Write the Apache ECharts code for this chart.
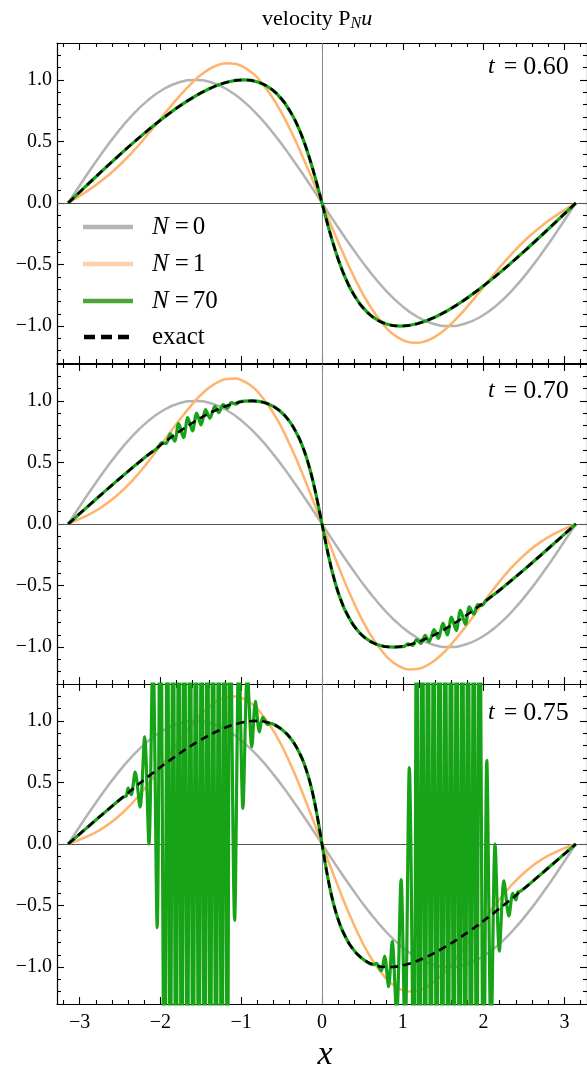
<!DOCTYPE html>
<html><head><meta charset="utf-8">
<script src="https://cdn.jsdelivr.net/npm/echarts@6/dist/echarts.min.js"></script>
<style>html,body{margin:0;padding:0;background:#fff}#c{width:587px;height:1067px}</style>
</head><body><div id="c"></div>
<script>
// ---------------- data ----------------
const panelTimes = ['0.60', '0.70', '0.75'];
const xGrid = [-3.1416,-2.9452,-2.7489,-2.5525,-2.3562,-2.1598,-1.9635,-1.7671,-1.5708,-1.3744,-1.1781,-0.9817,-0.7854,-0.589,-0.3927,-0.1963,0,0.1963,0.3927,0.589,0.7854,0.9817,1.1781,1.3744,1.5708,1.7671,1.9635,2.1598,2.3562,2.5525,2.7489,2.9452,3.1416];
const n0Vals = [0,0.1951,0.3827,0.5556,0.7071,0.8315,0.9239,0.9808,1,0.9808,0.9239,0.8315,0.7071,0.5556,0.3827,0.1951,0,-0.1951,-0.3827,-0.5556,-0.7071,-0.8315,-0.9239,-0.9808,-1,-0.9808,-0.9239,-0.8315,-0.7071,-0.5556,-0.3827,-0.1951,0];
const xGridN1 = [-3.1416,-2.9452,-2.7489,-2.5525,-2.3562,-2.1598,-1.9635,-1.7671,-1.5708,-1.4726,-1.3744,-1.2763,-1.1781,-1.0799,-0.9817,-0.8836,-0.7854,-0.589,-0.3927,-0.1963,0,0.1963,0.3927,0.589,0.7854,0.8836,0.9817,1.0799,1.1781,1.2763,1.3744,1.4726,1.5708,1.7671,1.9635,2.1598,2.3562,2.5525,2.7489,2.9452,3.1416];
const n1Vals060 = [0,0.0803,0.1706,0.2784,0.4071,0.5543,0.7118,0.866,1,1.0537,1.0956,1.1236,1.136,1.1314,1.1087,1.0672,1.0071,0.8328,0.5948,0.3099,0,-0.3099,-0.5948,-0.8328,-1.0071,-1.0672,-1.1087,-1.1314,-1.136,-1.1236,-1.0956,-1.0537,-1,-0.866,-0.7118,-0.5543,-0.4071,-0.2784,-0.1706,-0.0803,0];
const n1Vals070 = [0,0.0573,0.1281,0.223,0.3471,0.4989,0.6693,0.843,1,1.0654,1.1186,1.1569,1.1785,1.1812,1.1641,1.1261,1.0671,0.8882,0.6373,0.3329,0,-0.3329,-0.6373,-0.8882,-1.0671,-1.1261,-1.1641,-1.1812,-1.1785,-1.1569,-1.1186,-1.0654,-1,-0.843,-0.6693,-0.4989,-0.3471,-0.223,-0.1281,-0.0573,0];
const n1Vals075 = [0,0.0497,0.114,0.2045,0.3271,0.4804,0.6552,0.8354,1,1.0693,1.1262,1.168,1.1926,1.1979,1.1826,1.1457,1.0871,0.9067,0.6514,0.3405,0,-0.3405,-0.6514,-0.9067,-1.0871,-1.1457,-1.1826,-1.1979,-1.1926,-1.168,-1.1262,-1.0693,-1,-0.8354,-0.6552,-0.4804,-0.3271,-0.2045,-0.114,-0.0497,0];

const exact060 = [[-3.1416,0],[-2.8282,0.1951],[-2.5193,0.3827],[-2.2192,0.5556],[-1.9319,0.7071],[-1.6609,0.8315],[-1.4092,0.9239],[-1.1787,0.9808],[-0.9708,1],[-0.786,0.9808],[-0.6238,0.9239],[-0.4829,0.8315],[-0.3611,0.7071],[-0.3066,0.6344],[-0.2557,0.5556],[-0.208,0.4714],[-0.1631,0.3827],[-0.1204,0.2903],[-0.0793,0.1951],[-0.0394,0.098],[0,0],[0.0394,-0.098],[0.0793,-0.1951],[0.1204,-0.2903],[0.1631,-0.3827],[0.208,-0.4714],[0.2557,-0.5556],[0.3066,-0.6344],[0.3611,-0.7071],[0.4829,-0.8315],[0.6238,-0.9239],[0.786,-0.9808],[0.9708,-1],[1.1787,-0.9808],[1.4092,-0.9239],[1.6609,-0.8315],[1.9319,-0.7071],[2.2192,-0.5556],[2.5193,-0.3827],[2.8282,-0.1951],[3.1416,0]];
const exact070 = [[-3.1416,0],[-2.8087,0.1951],[-2.481,0.3827],[-2.1636,0.5556],[-1.8612,0.7071],[-1.5778,0.8315],[-1.3168,0.9239],[-1.0806,0.9808],[-0.8708,1],[-0.6879,0.9808],[-0.5314,0.9239],[-0.3997,0.8315],[-0.2904,0.7071],[-0.2432,0.6344],[-0.2001,0.5556],[-0.1609,0.4714],[-0.1248,0.3827],[-0.0913,0.2903],[-0.0598,0.1951],[-0.0296,0.098],[0,0],[0.0296,-0.098],[0.0598,-0.1951],[0.0913,-0.2903],[0.1248,-0.3827],[0.1609,-0.4714],[0.2001,-0.5556],[0.2432,-0.6344],[0.2904,-0.7071],[0.3997,-0.8315],[0.5314,-0.9239],[0.6879,-0.9808],[0.8708,-1],[1.0806,-0.9808],[1.3168,-0.9239],[1.5778,-0.8315],[1.8612,-0.7071],[2.1636,-0.5556],[2.481,-0.3827],[2.8087,-0.1951],[3.1416,0]];
const exact075 = [[-3.1416,0],[-2.7989,0.1951],[-2.4619,0.3827],[-2.1358,0.5556],[-1.8259,0.7071],[-1.5362,0.8315],[-1.2706,0.9239],[-1.0316,0.9808],[-0.8208,1],[-0.6389,0.9808],[-0.4852,0.9239],[-0.3581,0.8315],[-0.2551,0.7071],[-0.2114,0.6344],[-0.1724,0.5556],[-0.1373,0.4714],[-0.1057,0.3827],[-0.0768,0.2903],[-0.05,0.1951],[-0.0247,0.098],[0,0],[0.0247,-0.098],[0.05,-0.1951],[0.0768,-0.2903],[0.1057,-0.3827],[0.1373,-0.4714],[0.1724,-0.5556],[0.2114,-0.6344],[0.2551,-0.7071],[0.3581,-0.8315],[0.4852,-0.9239],[0.6389,-0.9808],[0.8208,-1],[1.0316,-0.9808],[1.2706,-0.9239],[1.5362,-0.8315],[1.8259,-0.7071],[2.1358,-0.5556],[2.4619,-0.3827],[2.7989,-0.1951],[3.1416,0]];

// N = 70 : coincides with the exact curve at t = 0.60
const n70t060 = [[-3.1416,0],[-2.8282,0.1951],[-2.5193,0.3827],[-2.2192,0.5556],[-1.9319,0.7071],[-1.6609,0.8315],[-1.4092,0.9239],[-1.1787,0.9808],[-0.9708,1],[-0.786,0.9808],[-0.6238,0.9239],[-0.4829,0.8315],[-0.3611,0.7071],[-0.3066,0.6344],[-0.2557,0.5556],[-0.208,0.4714],[-0.1631,0.3827],[-0.1204,0.2903],[-0.0793,0.1951],[-0.0394,0.098],[0,0],[0.0394,-0.098],[0.0793,-0.1951],[0.1204,-0.2903],[0.1631,-0.3827],[0.208,-0.4714],[0.2557,-0.5556],[0.3066,-0.6344],[0.3611,-0.7071],[0.4829,-0.8315],[0.6238,-0.9239],[0.786,-0.9808],[0.9708,-1],[1.1787,-0.9808],[1.4092,-0.9239],[1.6609,-0.8315],[1.9319,-0.7071],[2.2192,-0.5556],[2.5193,-0.3827],[2.8282,-0.1951],[3.1416,0]];
const n70t070 = [[-3.1416,0],[-2.8087,0.1951],[-2.481,0.3827],[-2.1636,0.5556],[-2.03,0.622],[-1.983,0.661],[-1.928,0.654],[-1.879,0.733],[-1.824,0.673],[-1.775,0.815],[-1.714,0.702],[-1.661,0.865],[-1.603,0.756],[-1.551,0.901],[-1.497,0.805],[-1.441,0.93],[-1.387,0.859],[-1.326,0.956],[-1.277,0.904],[-1.224,0.971],[-1.171,0.939],[-1.122,0.986],[-1.061,0.973],[-1.02,0.994],[-0.8708,1],[-0.6879,0.9808],[-0.5314,0.9239],[-0.3997,0.8315],[-0.2904,0.7071],[-0.2432,0.6344],[-0.2001,0.5556],[-0.1609,0.4714],[-0.1248,0.3827],[-0.0913,0.2903],[-0.0598,0.1951],[-0.0296,0.098],[0,0],[0.0296,-0.098],[0.0598,-0.1951],[0.0913,-0.2903],[0.1248,-0.3827],[0.1609,-0.4714],[0.2001,-0.5556],[0.2432,-0.6344],[0.2904,-0.7071],[0.3997,-0.8315],[0.5314,-0.9239],[0.6879,-0.9808],[0.8708,-1],[1.02,-0.994],[1.061,-0.973],[1.122,-0.986],[1.171,-0.939],[1.224,-0.971],[1.277,-0.904],[1.326,-0.956],[1.387,-0.859],[1.441,-0.93],[1.497,-0.805],[1.551,-0.901],[1.603,-0.756],[1.661,-0.865],[1.714,-0.702],[1.775,-0.815],[1.824,-0.673],[1.879,-0.733],[1.928,-0.654],[1.983,-0.661],[2.03,-0.622],[2.1636,-0.5556],[2.481,-0.3827],[2.8087,-0.1951],[3.1416,0]];
const n70t075 = [[-3.1416,0],[-2.7989,0.1951],[-2.4619,0.3827],[-2.423,0.39],[-2.399,0.455],[-2.362,0.4],[-2.313,0.585],[-2.252,0.3],[-2.195,0.87],[-2.142,0],[-2.093,1.6],[-2.04,-0.68],[-2.001,2.4],[-1.95,-2.4],[-1.914,2.4],[-1.879,-2.4],[-1.843,2.4],[-1.808,-2.4],[-1.772,2.4],[-1.738,-2.4],[-1.703,2.4],[-1.667,-2.4],[-1.632,2.4],[-1.596,-2.4],[-1.561,2.4],[-1.525,-2.4],[-1.49,2.4],[-1.454,-2.4],[-1.419,2.4],[-1.383,-2.4],[-1.348,2.4],[-1.312,-2.4],[-1.277,2.4],[-1.242,-2.4],[-1.207,2.4],[-1.171,-2.4],[-1.138,2.2],[-1.081,-0.62],[-1.028,1.6],[-0.979,0.29],[-0.924,1.4],[-0.869,0.79],[-0.824,1.16],[-0.775,0.91],[-0.734,1.03],[-0.673,0.97],[-0.6389,0.9808],[-0.4852,0.9239],[-0.3581,0.8315],[-0.2551,0.7071],[-0.2114,0.6344],[-0.1724,0.5556],[-0.1373,0.4714],[-0.1057,0.3827],[-0.0768,0.2903],[-0.05,0.1951],[-0.0247,0.098],[0,0],[0.0247,-0.098],[0.05,-0.1951],[0.0768,-0.2903],[0.1057,-0.3827],[0.1373,-0.4714],[0.1724,-0.5556],[0.2114,-0.6344],[0.2551,-0.7071],[0.3581,-0.8315],[0.4852,-0.9239],[0.6389,-0.9808],[0.673,-0.97],[0.734,-1.03],[0.775,-0.91],[0.824,-1.16],[0.869,-0.79],[0.924,-1.4],[0.979,-0.29],[1.028,-1.6],[1.081,0.62],[1.138,-2.2],[1.171,2.4],[1.207,-2.4],[1.242,2.4],[1.277,-2.4],[1.312,2.4],[1.348,-2.4],[1.383,2.4],[1.419,-2.4],[1.454,2.4],[1.49,-2.4],[1.525,2.4],[1.561,-2.4],[1.596,2.4],[1.632,-2.4],[1.667,2.4],[1.703,-2.4],[1.738,2.4],[1.772,-2.4],[1.808,2.4],[1.843,-2.4],[1.879,2.4],[1.914,-2.4],[1.95,2.4],[2.001,-2.4],[2.04,0.68],[2.093,-1.6],[2.142,0],[2.195,-0.87],[2.252,-0.3],[2.313,-0.585],[2.362,-0.4],[2.399,-0.455],[2.423,-0.39],[2.4619,-0.3827],[2.7989,-0.1951],[3.1416,0]];

const xMajorTicks = [-3,-2,-1,0,1,2,3];
const yMajorTicks = [-1,-0.5,0,0.5,1];
const legendLabels = ['0','1','70'];

// ---------------- chart ----------------
const FONT = '"Liberation Serif","Times New Roman",serif';
const C_GRAY = '#b3b3b3', C_ORANGE = '#ffb36b', C_GREEN = '#17a317', C_BLACK = '#000';
const tops = [43, 364, 684];
const PLOT_LEFT = 57, PLOT_W = 536, PLOT_H = 320;
const xMinorTicks = []; for (let i = -16; i <= 16; i++) if (i % 5 !== 0) xMinorTicks.push(i / 5);
const yMinorTicks = []; for (let i = -12; i <= 12; i++) if (i % 5 !== 0) yMinorTicks.push(i / 10);
const minus = s => s.replace('-', '\u2212');

const grid = tops.map(t => ({left: PLOT_LEFT, top: t, width: PLOT_W, height: PLOT_H}));
const xAxis = [], yAxis = [];
tops.forEach((t, g) => {
  [['bottom', true], ['bottom', false], ['top', true], ['top', false]].forEach(([pos, major]) => {
    xAxis.push({type: 'value', gridIndex: g, position: pos, min: -3.28, max: 3.28,
      axisLine: {show: major, onZero: false, lineStyle: {color: '#000', width: 1.2}},
      axisTick: {show: true, inside: true, length: major ? 7 : 4, customValues: major ? xMajorTicks : xMinorTicks, lineStyle: {color: '#000', width: 1.1}},
      axisLabel: {show: major && pos === 'bottom' && g === 2, customValues: xMajorTicks, formatter: v => minus(String(v)),
        fontFamily: FONT, fontSize: 20, color: '#000', margin: 9},
      splitLine: {show: false}});
  });
  [['left', true], ['left', false], ['right', true], ['right', false]].forEach(([pos, major]) => {
    yAxis.push({type: 'value', gridIndex: g, position: pos, min: -1.3, max: 1.3,
      axisLine: {show: major, onZero: false, lineStyle: {color: '#000', width: 1.2}},
      axisTick: {show: true, inside: true, length: major ? 7 : 4, customValues: major ? yMajorTicks : yMinorTicks, lineStyle: {color: '#000', width: 1.1}},
      axisLabel: {show: major && pos === 'left', customValues: yMajorTicks, formatter: v => minus(v.toFixed(1)),
        fontFamily: FONT, fontSize: 20, color: '#000', margin: 5},
      splitLine: {show: false}});
  });
});

const n1Sets = [n1Vals060, n1Vals070, n1Vals075];
const n70Sets = [n70t060, n70t070, n70t075];
const exactSets = [exact060, exact070, exact075];
const pairs = (xs, vals) => xs.map((x, i) => [x, vals[i]]);
const base = g => ({type: 'line', xAxisIndex: 4 * g, yAxisIndex: 4 * g, symbol: 'none', showSymbol: false,
  clip: true, silent: true, animation: false});
const series = [];
tops.forEach((t, g) => {
  series.push(Object.assign(base(g), {name: 'N = 0', data: pairs(xGrid, n0Vals), smooth: 0.5, z: 2,
    lineStyle: {color: C_GRAY, width: 2.5},
    markLine: {silent: true, symbol: 'none', animation: false, z: 1, label: {show: false},
      data: [{xAxis: 0, lineStyle: {color: '#8a8a8a', width: 1, type: 'solid'}},
             {yAxis: 0, lineStyle: {color: '#555', width: 1, type: 'solid'}}]}}));
  series.push(Object.assign(base(g), {name: 'N = 1', data: pairs(xGridN1, n1Sets[g]), smooth: 0.5, z: 3,
    lineStyle: {color: C_ORANGE, width: 2.5}}));
  series.push(Object.assign(base(g), {name: 'N = 70', data: n70Sets[g], smooth: 0.3, z: 4,
    lineStyle: {color: C_GREEN, width: 3.2}}));
  series.push(Object.assign(base(g), {name: 'exact', data: exactSets[g], smooth: 0.4, z: 5,
    lineStyle: {color: C_BLACK, width: 2.6, type: [8, 5]}}));
});

const rich = {
  i: {fontFamily: FONT, fontStyle: 'italic', fontSize: 25, fill: '#000', padding: [0, 6, 0, 0]},
  e: {fontFamily: FONT, fontSize: 25, fill: '#000', padding: [0, 4, 0, 0]},
  r: {fontFamily: FONT, fontSize: 25, fill: '#000'}
};
const graphic = [];
// title
graphic.push({type: 'text', x: 262, y: 19, silent: true, style: {
  text: '{a|velocity P}{s|N}{u|u}', verticalAlign: 'middle', align: 'left',
  rich: {a: {fontFamily: FONT, fontSize: 22, lineHeight: 26, fill: '#000'},
         s: {fontFamily: FONT, fontStyle: 'italic', fontSize: 16, lineHeight: 14, verticalAlign: 'bottom', fill: '#000'},
         u: {fontFamily: FONT, fontStyle: 'italic', fontSize: 22, lineHeight: 26, fill: '#000'}}}});
// time labels
const tCenters = [67, 391, 713];
panelTimes.forEach((tv, g) => {
  graphic.push({type: 'text', x: 488, y: tCenters[g], silent: true, style: {
    text: '{i|t}{e|=}{n|' + tv + '}', verticalAlign: 'middle', align: 'left',
    rich: {i: {fontFamily: FONT, fontStyle: 'italic', fontSize: 24, padding: [0, 9, 0, 0], fill: '#000'},
           e: {fontFamily: FONT, fontSize: 24, padding: [0, 6, 0, 0], fill: '#000'},
           n: {fontFamily: FONT, fontSize: 26, fill: '#000'}}}});
});
// x axis name
graphic.push({type: 'text', x: 325, y: 1055, silent: true, style: {text: 'x', fontFamily: FONT, fontStyle: 'italic', fontSize: 34,
  fill: '#000', align: 'center', verticalAlign: 'middle'}});
// legend
const legendRows = [227, 264, 301, 337];
const legendColors = ['#b4b4b4', '#fcd0ad', '#4ca63a'];
legendLabels.forEach((lab, k) => {
  graphic.push({type: 'line', silent: true, shape: {x1: 83, y1: legendRows[k], x2: 133, y2: legendRows[k]},
    style: {stroke: legendColors[k], lineWidth: 4.5}});
  graphic.push({type: 'text', x: 152, y: legendRows[k], silent: true, style: {
    text: '{i|N}{e|=}{r|' + lab + '}', verticalAlign: 'middle', align: 'left', rich}});
});
graphic.push({type: 'line', silent: true, shape: {x1: 84, y1: legendRows[3], x2: 134, y2: legendRows[3]},
  style: {stroke: '#000', lineWidth: 4.5, lineDash: [11, 6]}});
graphic.push({type: 'text', x: 152, y: legendRows[3], silent: true, style: {
  text: 'exact', fontFamily: FONT, fontSize: 25, fill: '#000', verticalAlign: 'middle', align: 'left'}});

const chart = echarts.init(document.getElementById('c'), null, {renderer: 'canvas'});
chart.setOption({backgroundColor: '#fff', animation: false, grid, xAxis, yAxis, series, graphic});
</script></body></html>
